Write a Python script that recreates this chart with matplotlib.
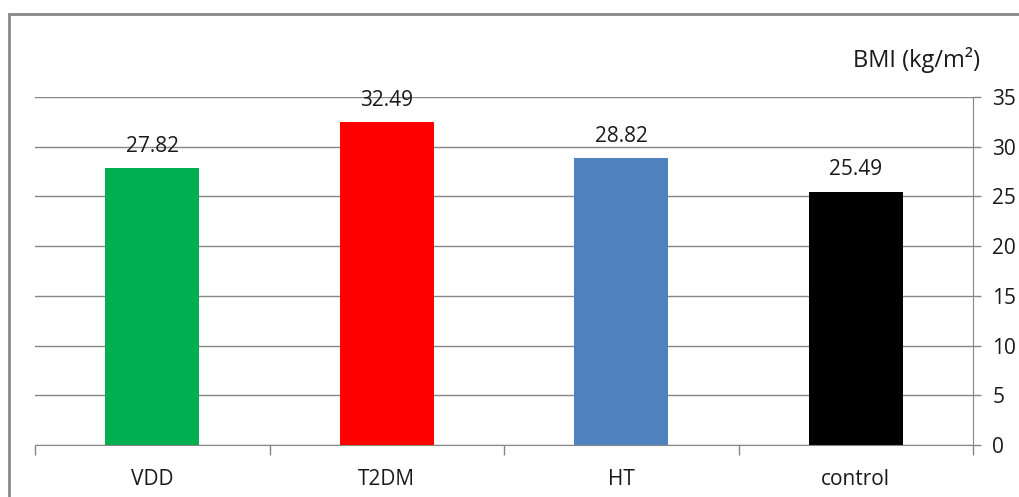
import matplotlib.pyplot as plt
from matplotlib.patches import Rectangle

groups = ["VDD", "T2DM", "HT", "control"]
bmi = [27.82, 32.49, 28.82, 25.49]
bar_colors = ["#00B050", "#FF0000", "#4F81BD", "#000000"]
yticks = [0, 5, 10, 15, 20, 25, 30, 35]

plt.rcParams['font.family'] = ['Open Sans', 'DejaVu Sans']
grey = "#868686"
ink = "#1a1a1a"

W, H = 1019, 497
fig = plt.figure(figsize=(W / 100, H / 100), dpi=100)
ax = fig.add_axes([35 / W, (H - 445) / H, (973 - 35) / W, (445 - 97) / H])

x = range(len(groups))
bars = ax.bar(x, bmi, width=0.4, color=bar_colors, zorder=3)
for b, v in zip(bars, bmi):
    ax.annotate(f"{v:.2f}", (b.get_x() + b.get_width() / 2, v),
                xytext=(0, 8), textcoords="offset points",
                ha="center", va="bottom", fontsize=15, color=ink)

ax.set_xlim(-0.5, len(groups) - 0.5)
ax.set_ylim(0, 35)
ax.set_yticks(yticks)
ax.yaxis.tick_right()
ax.yaxis.grid(True, color=grey, lw=1, zorder=0)
ax.tick_params(axis="y", length=6, width=1, color=grey, labelsize=15,
               labelcolor=ink, pad=8)

# category labels centred, tick marks on the boundaries
ax.set_xticks(list(x))
ax.set_xticklabels(groups, fontsize=15, color=ink)
ax.tick_params(axis="x", length=0, pad=17)
ax.set_xticks([i - 0.5 for i in range(len(groups) + 1)], minor=True)
ax.tick_params(axis="x", which="minor", length=7, width=1, color=grey)

for side in ["left", "top"]:
    ax.spines[side].set_visible(False)
ax.spines["right"].set_color(grey)
ax.spines["bottom"].set_color(grey)

fig.text(980 / W, (H - 60) / H, "BMI (kg/m²)", ha="right", va="center",
         fontsize=17, color=ink)

fig.patches.append(Rectangle((9 / W, -0.1), 1.2, (H - 14) / H + 0.1,
                             transform=fig.transFigure, fill=False,
                             edgecolor="#888888", lw=2))

fig.savefig("out.png", dpi=100)
